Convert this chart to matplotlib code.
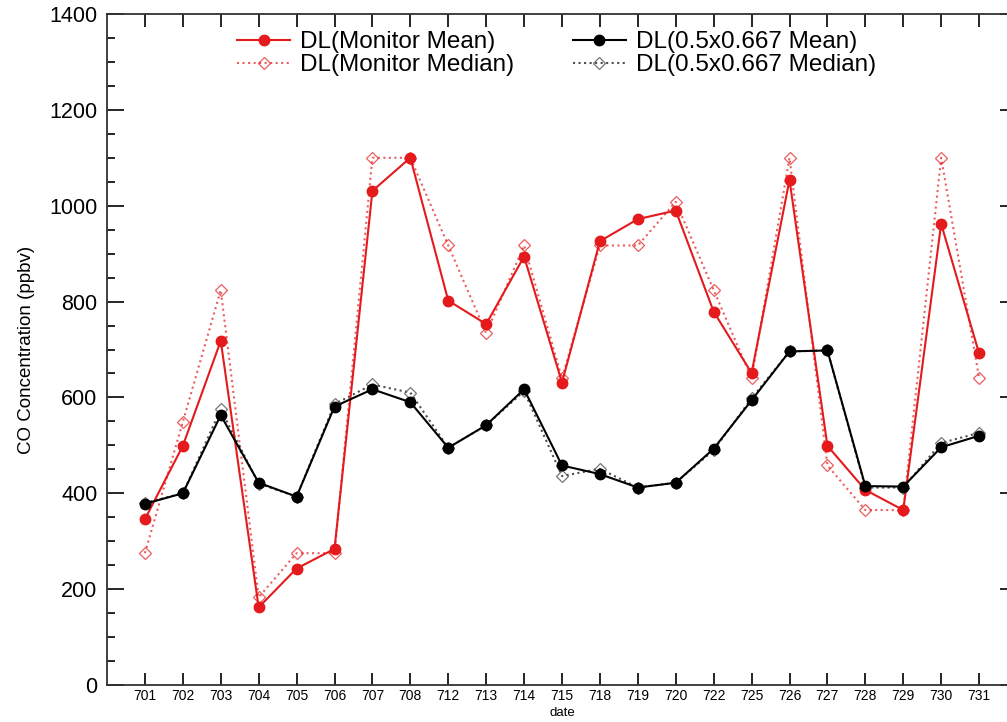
import matplotlib
matplotlib.use("Agg")
import matplotlib.pyplot as plt
from matplotlib.ticker import MultipleLocator

plt.rcParams['font.family'] = ['Liberation Sans', 'DejaVu Sans']

dates = ['701', '702', '703', '704', '705', '706', '707', '708', '712', '713', '714', '715',
         '718', '719', '720', '722', '725', '726', '727', '728', '729', '730', '731']

monitor_mean = [346, 499, 718, 162, 243, 284, 1031, 1100, 802, 753, 894, 631,
                926, 972, 990, 779, 651, 1054, 499, 407, 365, 962, 692]
monitor_median = [275, 549, 824, 183, 275, 275, 1100, 1100, 917, 734, 917, 640,
                  917, 917, 1008, 824, 640, 1100, 458, 365, 365, 1100, 641]
grid_mean = [378, 400, 563, 422, 393, 581, 617, 590, 495, 542, 617, 458,
             440, 412, 422, 493, 594, 696, 698, 415, 414, 496, 520]
grid_median = [380, 400, 575, 420, 393, 586, 627, 610, 495, 542, 613, 436,
               451, 412, 422, 490, 598, 696, 698, 412, 412, 505, 526]

RED = '#e41a1c'

W, H = 1007, 722
fig = plt.figure(figsize=(W / 100, H / 100), dpi=100)
# axes right edge lies slightly outside the image (as in the reference)
ax = fig.add_axes([107 / W, 37 / H, (1017 - 107) / W, (685 - 14) / H])

x = list(range(1, len(dates) + 1))

ax.plot(x, monitor_mean, '-', color=RED, lw=1.5, marker='o', ms=7.5,
        mfc=RED, mec=RED, label='DL(Monitor Mean)', zorder=4)
ax.plot(x, monitor_median, ':', color=RED, lw=1.5, marker='D', ms=6,
        mfc='none', mec=RED, mew=0.9, alpha=0.7, label='DL(Monitor Median)', zorder=3)
ax.plot(x, grid_mean, '-', color='black', lw=1.5, marker='o', ms=7.5,
        mfc='black', mec='black', label='DL(0.5x0.667 Mean)', zorder=4)
ax.plot(x, grid_median, ':', color='#222222', lw=1.5, marker='D', ms=6,
        mfc='none', mec='#555555', mew=0.9, alpha=0.8, label='DL(0.5x0.667 Median)', zorder=3)

ax.set_xlim(0, 24)
ax.set_ylim(0, 1400)
ax.set_xticks(x)
ax.set_xticklabels(dates, fontsize=10)
ax.yaxis.set_major_locator(MultipleLocator(200))
ax.yaxis.set_minor_locator(MultipleLocator(50))
ax.tick_params(axis='y', which='major', direction='in', length=12, width=1.2,
               labelsize=15.5, left=True, right=True, pad=7)
ax.tick_params(axis='y', which='minor', direction='in', length=6, width=1.2,
               left=True, right=True)
ax.tick_params(axis='x', which='major', direction='in', length=9, width=1.2,
               top=True, bottom=True, pad=3)
ax.tick_params(axis='x', which='minor', bottom=False, top=False)
for s in ax.spines.values():
    s.set_linewidth(1.3)
    s.set_color('#333333')

ax.set_xlabel('date', fontsize=9.5, labelpad=3)
ax.set_ylabel('CO Concentration (ppbv)', fontsize=13.5, labelpad=10)

leg = ax.legend(ncol=2, loc='upper left', bbox_to_anchor=(237 / W, 1 - 31 / H),
                bbox_transform=fig.transFigure, frameon=False, fontsize=17.5,
                handlelength=2.2, columnspacing=2.4, handletextpad=0.4,
                labelspacing=0.05, borderaxespad=0, borderpad=0)

fig.savefig('out.png', dpi=100)
